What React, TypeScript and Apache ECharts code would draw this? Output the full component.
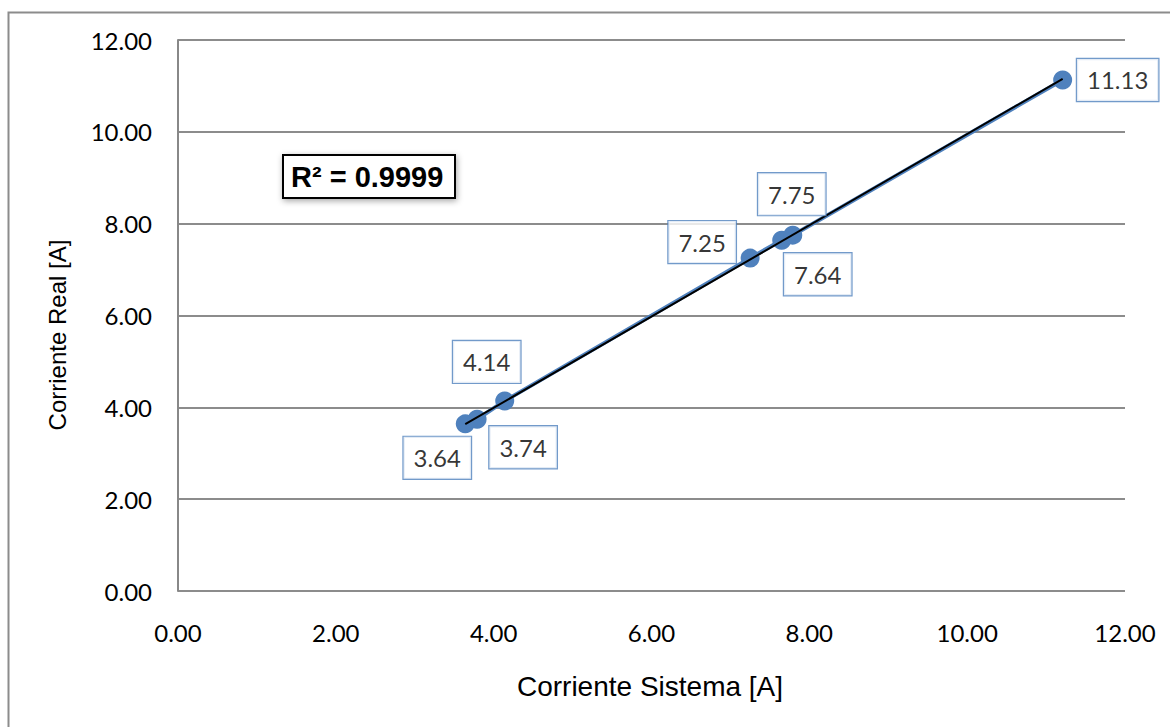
import React, { useEffect, useRef } from "react";
import * as echarts from "echarts";

const sistema = [3.64, 3.79, 4.14, 7.25, 7.65, 7.79, 11.21];
const real = [3.64, 3.74, 4.14, 7.25, 7.64, 7.75, 11.13];
const labelOffsets = [
  [-28, 34],
  [46, 28],
  [-18, -39],
  [-48, -16],
  [36, 34],
  [-1, -41],
  [55, 0],
];
const r2Text = "R² = 0.9999";
const xTitle = "Corriente Sistema [A]";
const yTitle = "Corriente Real [A]";

function regression(xs: number[], ys: number[]) {
  const n = xs.length;
  const mx = xs.reduce((a, b) => a + b, 0) / n;
  const my = ys.reduce((a, b) => a + b, 0) / n;
  let sxy = 0, sxx = 0;
  for (let i = 0; i < n; i++) {
    sxy += (xs[i] - mx) * (ys[i] - my);
    sxx += (xs[i] - mx) * (xs[i] - mx);
  }
  const slope = sxy / sxx;
  return { slope, intercept: my - slope * mx };
}

export default function App() {
  const ref = useRef<HTMLDivElement>(null);
  useEffect(() => {
    if (!ref.current) return;
    const chart = echarts.init(ref.current, undefined, { renderer: "svg" });
    const { slope, intercept } = regression(sistema, real);
    const xmin = Math.min(...sistema);
    const xmax = Math.max(...sistema);
    const tickFont = "Lato, 'Open Sans', sans-serif";
    const titleFont = "'Liberation Sans', Arial, sans-serif";
    chart.setOption({
      animation: false,
      backgroundColor: "#ffffff",
      grid: { left: 178, right: 45, top: 40, bottom: 136, containLabel: false },
      xAxis: {
        type: "value",
        min: 0,
        max: 12,
        interval: 2,
        axisLine: { show: false },
        axisTick: { show: false },
        splitLine: { show: false },
        axisLabel: {
          formatter: (v: number) => v.toFixed(2),
          fontFamily: tickFont,
          fontSize: 24,
          color: "#000",
          margin: 29,
        },
      },
      yAxis: {
        type: "value",
        min: 0,
        max: 12,
        interval: 2,
        axisLine: { show: true, lineStyle: { color: "#888", width: 2 } },
        axisTick: { show: false },
        splitLine: { show: true, lineStyle: { color: "#8c8c8c", width: 2 } },
        axisLabel: {
          formatter: (v: number) => v.toFixed(2),
          fontFamily: tickFont,
          fontSize: 24,
          color: "#000",
          margin: 26,
        },
      },
      series: [
        {
          type: "line",
          data: sistema.map((x, i) => [x, real[i]]),
          symbol: "circle",
          symbolSize: 19,
          itemStyle: { color: "#4F81BD" },
          lineStyle: { color: "#4F81BD", width: 4 },
          z: 2,
          label: { show: false },
        },
        {
          type: "line",
          data: [
            [xmin, slope * xmin + intercept],
            [xmax, slope * xmax + intercept],
          ],
          symbol: "none",
          lineStyle: { color: "#000", width: 2 },
          z: 3,
        },
        {
          type: "scatter",
          data: sistema.map((x, i) => ({
            value: [x, real[i]],
            label: { offset: labelOffsets[i] },
          })),
          symbolSize: 1,
          itemStyle: { color: "transparent" },
          z: 5,
          label: {
            show: true,
            position: "inside",
            formatter: (p: any) => p.value[1].toFixed(2),
            fontFamily: tickFont,
            fontSize: 24,
            color: "#000",
            backgroundColor: "#fff",
            borderColor: "#4F81BD",
            borderWidth: 1.2,
            padding: [9, 10],
            lineHeight: 24,
          },
        },
      ],
      graphic: [
        {
          type: "rect",
          left: 6,
          top: 10,
          shape: { width: 1180, height: 740 },
          style: { fill: "none", stroke: "#8c8c8c", lineWidth: 2 },
          silent: true,
          z: -1,
        },
        {
          type: "text",
          x: 650,
          y: 686,
          style: {
            text: xTitle,
            font: `28px ${titleFont}`,
            fill: "#000",
            align: "center",
            verticalAlign: "middle",
          },
        },
        {
          type: "text",
          x: 57,
          y: 335,
          rotation: Math.PI / 2,
          style: {
            text: yTitle,
            font: `24px ${titleFont}`,
            fill: "#000",
            align: "center",
            verticalAlign: "middle",
          },
        },
        {
          type: "rect",
          x: 283,
          y: 155,
          shape: { width: 172, height: 43 },
          style: {
            fill: "#fff",
            stroke: "#000",
            lineWidth: 2,
            shadowBlur: 6,
            shadowColor: "rgba(0,0,0,0.35)",
            shadowOffsetX: 1,
            shadowOffsetY: 2,
          },
          z: 10,
        },
        {
          type: "text",
          x: 291,
          y: 177,
          style: {
            text: r2Text,
            font: `bold 29px ${titleFont}`,
            fill: "#000",
            verticalAlign: "middle",
          },
          z: 11,
        },
      ],
    });
    return () => chart.dispose();
  }, []);
  return (
    <div
      ref={ref}
      style={{ position: "fixed", left: 0, top: 0, width: 1170, height: 727, background: "#fff" }}
    />
  );
}
